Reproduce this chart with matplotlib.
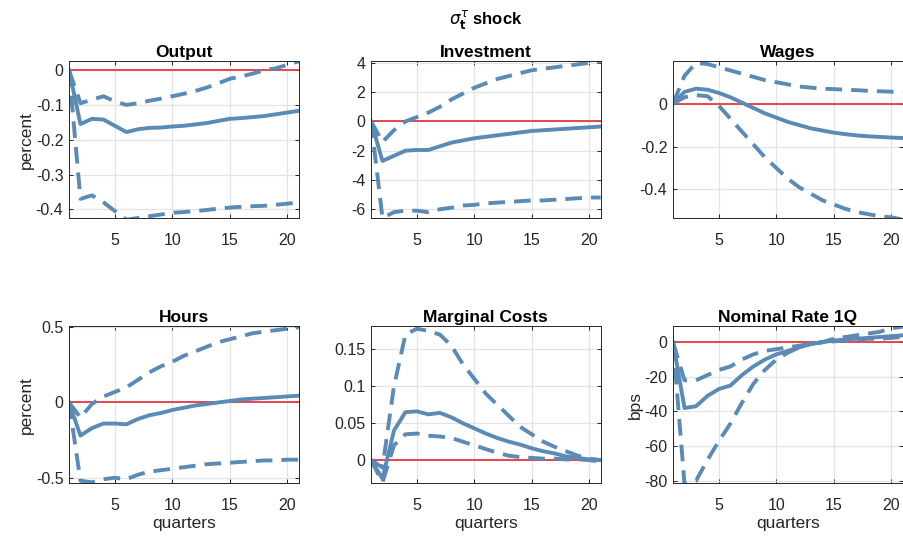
import numpy as np
import matplotlib
matplotlib.use('Agg')
import matplotlib.pyplot as plt

plt.rcParams['font.family'] = ['Liberation Sans', 'DejaVu Sans']
plt.rcParams['lines.scale_dashes'] = False

# 脉冲响应：中位数与置信带
quarters = np.arange(1, 22)

output_med = [0, -0.155, -0.14, -0.142, -0.16, -0.178, -0.17, -0.166, -0.165, -0.162, -0.16,
              -0.156, -0.152, -0.146, -0.14, -0.138, -0.135, -0.132, -0.127, -0.122, -0.117]
output_hi = [0, -0.095, -0.085, -0.075, -0.09, -0.1, -0.095, -0.088, -0.082, -0.075, -0.068,
             -0.06, -0.05, -0.038, -0.025, -0.018, -0.01, 0.0, 0.005, 0.015, 0.025]
output_lo = [0, -0.37, -0.36, -0.38, -0.405, -0.43, -0.425, -0.42, -0.415, -0.41, -0.408,
             -0.405, -0.402, -0.398, -0.395, -0.393, -0.391, -0.39, -0.387, -0.384, -0.38]

invest_med = [0, -2.7, -2.35, -2.0, -1.95, -1.95, -1.7, -1.45, -1.3, -1.15, -1.05,
              -0.95, -0.85, -0.75, -0.65, -0.6, -0.55, -0.5, -0.45, -0.4, -0.35]
invest_hi = [0, -1.4, -0.6, 0.0, 0.3, 0.6, 1.0, 1.5, 1.9, 2.3, 2.6,
             2.9, 3.1, 3.3, 3.5, 3.6, 3.7, 3.8, 3.9, 4.0, 4.1]
invest_lo = [0, -6.6, -6.2, -6.1, -6.1, -6.2, -6.0, -5.9, -5.75, -5.7, -5.6,
             -5.55, -5.5, -5.45, -5.4, -5.4, -5.35, -5.3, -5.25, -5.2, -5.2]

wages_med = [0, 0.055, 0.07, 0.065, 0.05, 0.03, 0.005, -0.02, -0.045, -0.065, -0.085,
             -0.1, -0.115, -0.125, -0.135, -0.142, -0.148, -0.152, -0.155, -0.158, -0.16]
wages_hi = [0, 0.13, 0.19, 0.185, 0.17, 0.155, 0.14, 0.125, 0.11, 0.1, 0.09,
            0.08, 0.075, 0.07, 0.068, 0.065, 0.063, 0.06, 0.058, 0.056, 0.055]
wages_lo = [0, 0.03, 0.04, 0.035, -0.01, -0.07, -0.13, -0.19, -0.25, -0.3, -0.35,
            -0.39, -0.42, -0.45, -0.47, -0.49, -0.505, -0.515, -0.525, -0.53, -0.54]

hours_med = [0, -0.22, -0.17, -0.14, -0.14, -0.145, -0.11, -0.085, -0.07, -0.05, -0.035,
             -0.02, -0.01, 0.0, 0.01, 0.02, 0.025, 0.03, 0.035, 0.04, 0.045]
hours_hi = [0, -0.1, -0.01, 0.04, 0.07, 0.1, 0.15, 0.2, 0.24, 0.27, 0.31,
            0.34, 0.37, 0.4, 0.42, 0.44, 0.46, 0.47, 0.48, 0.49, 0.5]
hours_lo = [0, -0.52, -0.53, -0.51, -0.5, -0.51, -0.48, -0.46, -0.45, -0.44, -0.43,
            -0.42, -0.41, -0.405, -0.4, -0.395, -0.39, -0.385, -0.385, -0.38, -0.38]

mc_med = [0, -0.025, 0.04, 0.065, 0.066, 0.062, 0.064, 0.058, 0.05, 0.043, 0.036,
          0.03, 0.025, 0.021, 0.016, 0.012, 0.009, 0.005, 0.003, 0.001, 0.0]
mc_hi = [0, -0.01, 0.1, 0.17, 0.178, 0.175, 0.17, 0.155, 0.13, 0.11, 0.09,
         0.075, 0.06, 0.045, 0.035, 0.025, 0.018, 0.012, 0.006, 0.002, 0.0]
mc_lo = [0, -0.03, 0.02, 0.035, 0.036, 0.033, 0.032, 0.03, 0.025, 0.02, 0.015,
         0.01, 0.006, 0.004, 0.003, 0.002, 0.002, 0.001, 0.001, 0.0, -0.002]

rate_med = [0, -38, -37, -31, -27, -25, -19, -14, -10, -7, -5,
            -3, -1, 0, 1, 1.5, 2, 2.5, 3, 3.5, 4]
rate_hi = [0, -22, -22, -19, -16, -14, -10, -7, -5, -4, -3,
           -2, -1, 0, 2, 3, 4, 5, 6, 8, 9]
rate_lo = [0, -82, -80, -68, -57, -47, -35, -24, -16, -10, -6,
           -3, -1, 0, 0.5, 1, 1.5, 2, 2, 2.5, 3]

panels = [
    ('Output', output_med, output_hi, output_lo, (-0.425, 0.025), [-0.4, -0.3, -0.2, -0.1, 0], 'percent', False),
    ('Investment', invest_med, invest_hi, invest_lo, (-6.6, 4.1), [-6, -4, -2, 0, 2, 4], None, False),
    ('Wages', wages_med, wages_hi, wages_lo, (-0.533, 0.197), [-0.4, -0.2, 0], None, False),
    ('Hours', hours_med, hours_hi, hours_lo, (-0.535, 0.505), [-0.5, 0, 0.5], 'percent', True),
    ('Marginal Costs', mc_med, mc_hi, mc_lo, (-0.031, 0.181), [0, 0.05, 0.1, 0.15], None, True),
    ('Nominal Rate 1Q', rate_med, rate_hi, rate_lo, (-81.3, 9.1), [-80, -60, -40, -20, 0], 'bps', True),
]

blue = '#5a8bb6'
red = '#e8373f'
dark = '#262626'

fig = plt.figure(figsize=(9.04, 5.38), dpi=100)

lefts = [0.0763, 0.4104, 0.7445]
bottoms = [0.5948, 0.1022]
w, h = 0.2540, 0.2910

for i, (name, med, hi, lo, ylim, yticks, ylab, bottom_row) in enumerate(panels):
    ax = fig.add_axes([lefts[i % 3], bottoms[i // 3], w, h])
    # 零线画在曲线下面
    ax.axhline(0, color=red, lw=1.3, zorder=1.5)
    ax.plot(quarters, med, color=blue, lw=2.8, solid_joinstyle='round', zorder=2)
    ax.plot(quarters, hi, color=blue, lw=2.8, dashes=(12, 6.5), zorder=2)
    ax.plot(quarters, lo, color=blue, lw=2.8, dashes=(12, 6.5), zorder=2)

    ax.set_xlim(1, 21)
    ax.set_ylim(*ylim)
    ax.set_xticks([5, 10, 15, 20])
    ax.set_yticks(yticks)
    ax.set_yticklabels([f'{t:g}' for t in yticks])
    ax.grid(True, color='#e3e3e3', lw=0.9)
    ax.set_axisbelow(True)
    ax.tick_params(direction='in', length=3, width=0.7, colors=dark, labelsize=11.5,
                   top=True, right=True)
    ax.tick_params(axis='x', pad=11)
    ax.tick_params(axis='y', pad=4)
    for s in ax.spines.values():
        s.set_color(dark)
        s.set_linewidth(0.7)

    ax.set_title(name, fontsize=12.5, fontweight='bold', pad=3)
    if ylab:
        ax.set_ylabel(ylab, fontsize=12.5, color=dark, labelpad=1)
    if bottom_row:
        ax.set_xlabel('quarters', fontsize=12.5, color=dark, labelpad=2)

fig.text(0.537, 0.963, r'$\sigma^{\tau}_{\mathbf{t}}$ shock', ha='center', va='center',
         fontsize=12, fontweight='bold')

plt.savefig('out.png', dpi=100)
